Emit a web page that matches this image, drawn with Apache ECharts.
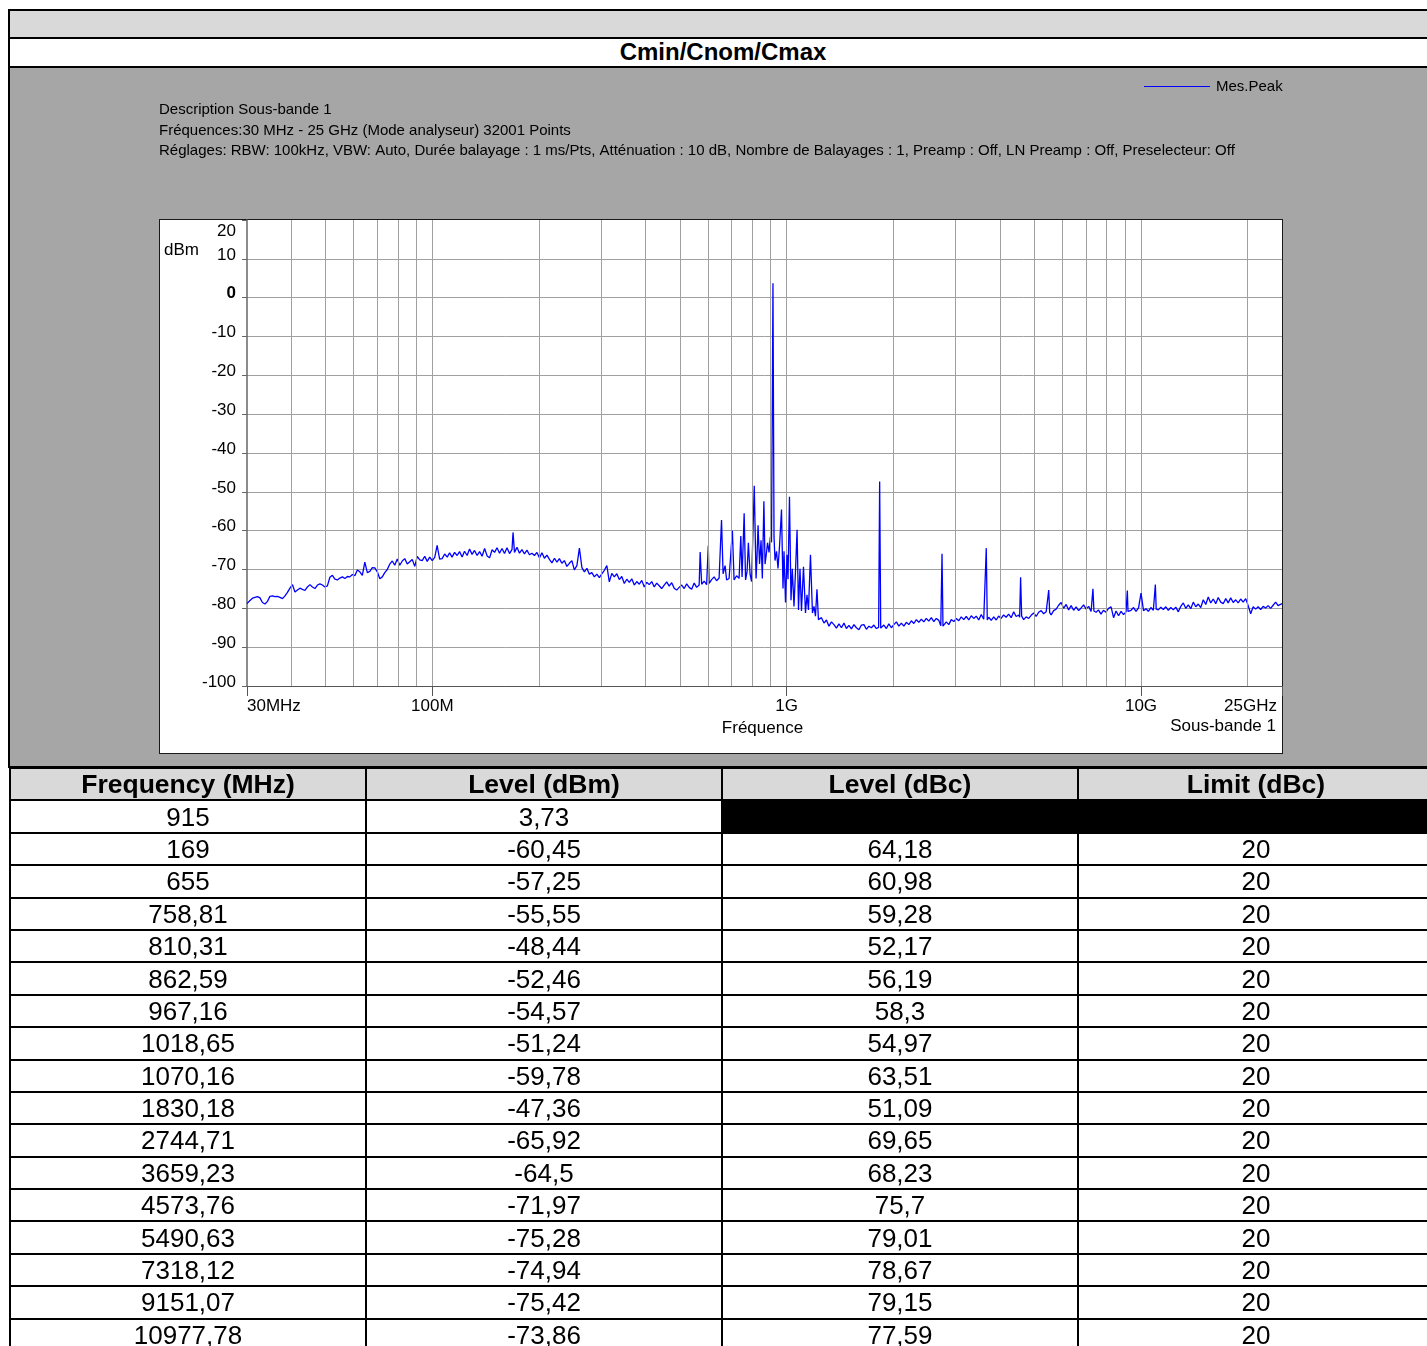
<!DOCTYPE html>
<html><head><meta charset="utf-8">
<script src="https://cdn.jsdelivr.net/npm/echarts@6/dist/echarts.min.js"></script>
<style>
html,body{margin:0;padding:0;width:1427px;height:1346px;overflow:hidden;background:#fff;font-family:"Liberation Sans",Arial,sans-serif;}
.abs{position:absolute;}
#frame{left:8px;top:9px;width:1440px;height:759px;background:#000;}
#band{left:10px;top:11px;width:1440px;height:26px;background:#d9d9d9;}
#titleRow{left:10px;top:39px;width:1426px;height:27px;background:#fff;font-weight:bold;font-size:24px;line-height:26px;text-align:center;color:#000;}
#grayArea{left:10px;top:68px;width:1440px;height:698px;background:#a6a6a6;}
#panel{left:159px;top:219px;width:1122px;height:533px;background:#fff;border:1px solid #1a1a1a;}
#chart{left:0;top:0;width:1427px;height:768px;}
#tbl{left:9px;top:767px;border-collapse:collapse;table-layout:fixed;width:1426px;}
#tbl td,#tbl th{border:2px solid #000;padding:0;text-align:center;font-size:26px;color:#000;line-height:28px;}
#tbl th{background:#d9d9d9;font-weight:bold;font-size:26.5px;}
#tbl tr{height:32.4px;}
#tbl td.blk{background:#000;}
</style>
</head>
<body>
<div id="frame" class="abs"></div>
<div id="band" class="abs"></div>
<div id="titleRow" class="abs">Cmin/Cnom/Cmax</div>
<div id="grayArea" class="abs"></div>
<div id="panel" class="abs"></div>
<div id="chart" class="abs"></div>
<table id="tbl" class="abs">
<colgroup><col style="width:356px"><col style="width:356px"><col style="width:356px"><col style="width:356px"></colgroup>
<thead><tr id="hdr"></tr></thead>
<tbody id="body"></tbody>
</table>
<script>
// ---- sweep trace (frequency MHz, level dBm) ----
const segA = [
[30.0,-78.8],[30.59,-78.0],[31.09,-77.4],[31.60,-77.2],[32.12,-77.0],[32.64,-77.3],[33.17,-78.5],[33.72,-78.9],[34.27,-78.2],[34.83,-76.9],
[35.40,-76.8],[35.98,-77.0],[36.57,-76.9],[37.17,-77.2],[37.78,-77.5],[38.40,-76.8],[39.02,-75.9],[39.66,-74.8],[40.31,-73.9],[40.97,-75.8],
[41.64,-75.3],[42.32,-74.8],[43.01,-75.1],[43.72,-75.4],[44.43,-74.5],[45.16,-73.9],[45.90,-74.5],[46.65,-74.9],[47.41,-74.0],[48.18,-73.7],
[48.97,-74.0],[49.77,-74.5],[50.58,-74.2],[51.41,-72.0],[52.25,-71.5],[53.11,-72.5],[53.97,-72.7],[54.86,-72.2],[55.76,-71.9],[56.67,-72.3],
[57.60,-71.8],[58.53,-71.9],[59.49,-71.3],[60.46,-71.6],[61.45,-70.1],[62.45,-70.6],[63.47,-71.5],[64.51,-68.1],[65.56,-70.8],[66.64,-70.5],
[67.73,-69.5],[68.84,-69.6],[69.96,-70.6],[71.10,-72.4],[72.26,-71.9],[73.44,-70.8],[74.65,-70.0],[75.87,-68.6],[77.11,-67.8],[78.37,-68.9],
[79.65,-67.3]
];
const segB = [
[80.95,-68.9],[82.27,-67.8],[83.62,-67.2],[84.99,-68.6],[86.38,-68.0],[87.79,-67.4],[89.23,-69.2],[90.69,-66.6],[92.17,-67.5],[93.68,-67.7],
[95.21,-66.6],[96.76,-67.9],[98.34,-66.8],[99.95,-67.7],[101.6,-66.9],[103.2,-63.8],[104.9,-67.3],[106.6,-67.2],[108.4,-66.0],[110.2,-66.8],
[111.9,-65.7],[113.7,-66.8],[115.6,-65.6],[117.5,-66.4],[119.4,-65.4],[121.4,-66.8],[123.3,-65.3],[125.4,-66.4],[127.4,-64.7],[129.5,-66.1],
[131.6,-65.1],[133.8,-66.4],[136.0,-65.4],[138.2,-66.6],[140.5,-64.6],[142.8,-66.5],[145.1,-67.0],[147.5,-64.9],[149.9,-65.6],[152.3,-64.4],
[154.8,-65.8],[157.3,-64.6],[159.9,-65.9],[162.5,-64.4],[165.2,-65.9],[167.9,-64.8],[170.6,-65.6],[173.4,-64.3],[176.2,-65.8],[179.1,-64.9],
[182.0,-66.0],[185.0,-65.0],[188.0,-66.2],[191.1,-65.8],[194.2,-66.4],[197.4,-65.6],[200.6,-67.0],[203.9,-65.7],[207.2,-67.1],[210.6,-66.3],
[214.1,-67.4],[217.6,-68.3],[221.2,-67.1],[224.8,-68.1],[228.4,-67.2],[232.1,-68.4],[235.9,-67.7],[239.8,-69.2],[243.7,-68.4],[247.7,-67.7],
[251.7,-70.1],[255.9,-69.0],[260.1,-64.5],[264.4,-69.5],[268.7,-70.6],[273.1,-69.7],[277.5,-71.2],[282.0,-70.8],[286.7,-71.9],[291.3,-71.2]
];
const segC = [
[296.1,-72.1],[300.9,-71.1],[305.9,-70.2],[310.9,-69.0],[315.9,-73.2],[321.1,-71.0],[326.3,-71.9],[331.7,-71.1],[337.1,-72.6],[342.6,-71.8],
[348.2,-73.6],[353.9,-72.5],[359.7,-73.3],[365.6,-72.4],[371.6,-74.0],[377.6,-73.1],[383.8,-73.8],[390.1,-72.8],[396.5,-74.5],[402.9,-73.3],
[409.5,-73.9],[416.2,-73.1],[423.0,-74.5],[429.9,-73.5],[436.9,-74.2],[444.0,-74.9],[451.3,-74.0],[458.7,-73.2],[466.2,-74.3],[473.8,-73.4],
[481.6,-74.8],[489.4,-75.3],[497.5,-74.6],[505.6,-74.0],[513.9,-74.9],[522.3,-73.7],[530.8,-74.6],[539.5,-75.1],[548.3,-73.5],[557.3,-74.6],
[566.4,-74.0],[570.1,-65.5],[575.7,-73.8],[585.1,-73.0],[594.6,-73.9],[601.0,-63.9],[604.3,-73.6],[614.2,-72.6],[624.2,-71.9],[634.4,-72.9],
[644.8,-72.2],[661.7,-71.1],[670.4,-69.0],[677.0,-72.7],[688.0,-72.3],[702.9,-60.0],[710.7,-72.7],[722.3,-71.6],[734.2,-72.3],[742.4,-61.4],
[748.6,-71.9],[765.8,-72.7],[773.3,-70.5],[779.9,-63.1],[788.5,-71.2],[796.2,-73.1],[819.8,-72.3],[825.1,-66.5],[830.5,-58.6],[838.6,-68.6],
[846.8,-62.5],[853.9,-72.3],[869.1,-68.6],[876.4,-66.0],[883.3,-63.1],[891.9,-65.6],[899.5,-61.6],[906.5,-63.0],[921.3,-61.6],[927.3,-67.7],
[936.4,-65.3],[945.5,-69.7],[954.8,-64.0],[976.7,-74.9],[983.1,-65.3],[992.7,-78.5],[1002.4,-66.2],[1008.9,-72.5],[1028.8,-77.9],[1037.4,-69.8],
[1049.0,-79.5],[1059.2,-70.5],[1080.1,-80.4],[1090.7,-69.8],[1101.3,-80.7],[1115.7,-69.3],[1130.3,-81.2],[1141.3,-76.5],[1152.5,-80.4],[1167.5,-66.2],
[1182.7,-81.2],[1194.3,-79.5],[1206.0,-82.0],[1217.8,-75.1],[1229.7,-82.9]
];
const segD = [
[1253.9,-82.4],[1274.4,-83.8],[1295.2,-83.0],[1316.4,-84.6],[1337.9,-83.5],[1359.8,-84.2],[1382.0,-85.1],[1404.7,-84.0],[1427.7,-85.0],[1451.0,-83.8],
[1474.7,-85.2],[1498.9,-84.4],[1523.4,-85.3],[1548.3,-84.2],[1573.6,-85.0],[1599.4,-85.5],[1625.6,-84.3],[1652.2,-84.2],[1679.1,-85.4],[1706.6,-84.6],
[1734.5,-85.0],[1762.9,-84.3],[1791.7,-85.2],[1818,-84.9],[1843,-85.1],[1881.1,-84.3],[1911.8,-85.2],[1943.1,-84.0],[1974.9,-85.0],[2007.2,-84.2],
[2040.0,-83.5],[2073.4,-84.6],[2107.3,-83.8],[2141.8,-84.6],[2176.8,-83.6],[2212.4,-84.2],[2248.6,-83.2],[2285.4,-83.9],[2322.7,-82.9],[2360.7,-83.6],
[2399.3,-82.8],[2438.6,-83.5],[2478.4,-82.6],[2519.0,-83.3],[2560.2,-82.4],[2602.1,-83.4],[2644.6,-82.6],[2687.9,-83.1],[2723.0,-84.5],[2762,-84.6],
[2821.9,-83.5],[2868.1,-84.2],[2915.0,-82.9],[2962.7,-83.4],[3011.1,-82.6],[3060.4,-83.2],[3110.4,-82.2],[3161.3,-82.9],[3213.0,-82.1],[3265.6,-83.0],
[3319.0,-81.9],[3373.3,-82.6],[3428.4,-82.0],[3484.5,-83.0],[3541.5,-81.6],[3599.4,-82.8],[3636,-82.5],[3683,-83.0],[3718.1,-82.3],[3778.9,-83.1],
[3840.7,-82.2],[3903.5,-83.0],[3965,-82.0],[4030,-82.6],[4096,-81.7],[4163,-82.3],[4233,-81.5],[4302,-82.4],[4373,-80.9],[4444,-82.1],
[4517,-81.7],[4545,-82.3],[4605,-82.0],[4666,-82.9],[4742,-82.2],[4820,-82.6],[4899,-81.8],[4979,-81.2],[5060,-82.1],[5143,-81.0],
[5227,-80.6],[5313,-81.4],[5400,-80.9],[5455,-81.3],[5525,-81.1],[5578,-81.7],[5669,-80.6],[5762,-80.2],[5856,-79.2],[5952,-78.5],
[6049,-80.0],[6148,-79.0],[6249,-80.4],[6351,-79.3],[6455,-80.5],[6560,-79.6],[6668,-80.6],[6777,-79.9],[6888,-79.1],[7000,-80.2],
[7115,-79.5],[7231,-80.8],[7275,-80.3],[7365,-80.7],[7470,-81.0],[7585,-80.4],[7709,-81.5],[7835,-80.5],[7963,-81.0],[8101,-80.0],
[8233,-79.6],[8368,-82.4],[8505,-80.7],[8644,-81.9],[8785,-80.8],[8929,-81.6],[9075,-80.9],[9110,-80.6],[9190,-80.8],[9374,-80.5],
[9527,-79.8],[9683,-80.8],[9842,-79.9],[10003,-76.1],[10166,-80.6],[10333,-80.1],[10490,-80.8],[10662,-79.8],[10836,-80.5],[10920,-80.0],
[11040,-80.2],[11193,-80.4],[11376,-79.7],[11562,-80.3],[11751,-79.6],[11944,-80.5],[12139,-79.8],[12338,-80.4],[12539,-79.7],[12744,-80.9],
[12952,-79.5],[13164,-78.6],[13379,-80.0],[13598,-79.1],[13820,-80.1],[14046,-78.4],[14276,-79.6],[14509,-78.9],[14746,-79.8],[14988,-77.8],
[15232,-79.0],[15482,-77.1],[15735,-78.6],[15993,-77.6],[16254,-78.8],[16519,-77.2],[16789,-78.4],[17064,-78.8],[17343,-77.5],[17626,-78.6],
[17914,-77.3],[18207,-78.5],[18505,-77.8],[18808,-78.6],[19116,-77.6],[19428,-78.4],[19746,-77.5],[20066,-79.3],[20394,-81.4],[20729,-79.6],
[21067,-80.2],[21412,-79.6],[21762,-80.3],[22118,-79.5],[22480,-79.9],[22846,-79.3],[23220,-80.0],[23599,-79.2],[23985,-78.4],[24377,-79.3],
[25000,-78.8]
];

// ---- peak table ----
const peakFreqMHz  = [915, 169, 655, 758.81, 810.31, 862.59, 967.16, 1018.65, 1070.16, 1830.18, 2744.71, 3659.23, 4573.76, 5490.63, 7318.12, 9151.07, 10977.78];
const peakLevelDbm = [3.73, -60.45, -57.25, -55.55, -48.44, -52.46, -54.57, -51.24, -59.78, -47.36, -65.92, -64.5, -71.97, -75.28, -74.94, -75.42, -73.86];
const peakLevelDbc = [null, 64.18, 60.98, 59.28, 52.17, 56.19, 58.3, 54.97, 63.51, 51.09, 69.65, 68.23, 75.7, 79.01, 78.67, 79.15, 77.59];
const peakLimitDbc = [null, 20, 20, 20, 20, 20, 20, 20, 20, 20, 20, 20, 20, 20, 20, 20, 20];
const tableHeaders = ['Frequency (MHz)', 'Level (dBm)', 'Level (dBc)', 'Limit (dBc)'];

// ---- axes ----
const gridFreqMHz = [40,50,60,70,80,90,200,300,400,500,600,700,800,900,2000,3000,4000,5000,6000,7000,8000,9000,20000];
const xTickValues = [30, 100, 1000, 10000, 25000];
const xTickLabels = ['30MHz', '100M', '1G', '10G', '25GHz'];
const yMin = -100, yMax = 20, yStep = 10;

const descLines = [
  'Description Sous-bande 1',
  'Fréquences:30 MHz - 25 GHz (Mode analyseur) 32001 Points',
  'Réglages: RBW: 100kHz, VBW: Auto, Durée balayage : 1 ms/Pts, Atténuation : 10 dB, Nombre de Balayages : 1, Preamp : Off, LN Preamp : Off, Preselecteur: Off'
];

const FONT = '"Liberation Sans", Arial, sans-serif';
const BLUE = '#0000ff';
const trace = segA.concat(segB, segC, segD, peakFreqMHz.map((f, i) => [f, peakLevelDbm[i]]))
  .sort((a, b) => a[0] - b[0]);

const chart = echarts.init(document.getElementById('chart'), null, {renderer: 'canvas'});
chart.setOption({
  animation: false,
  textStyle: {fontFamily: FONT},
  grid: {left: 247, top: 220, width: 1035, height: 466, show: false},
  legend: {
    data: [{name: 'Mes.Peak', itemStyle: {color: BLUE}}],
    left: 1144, top: 79, padding: 0, icon: 'rect', itemWidth: 66, itemHeight: 1.2,
    selectedMode: false,
    itemStyle: {color: BLUE},
    textStyle: {fontSize: 15, color: '#000', fontFamily: FONT, padding: [0, 0, 0, 1]}
  },
  xAxis: {
    type: 'log', logBase: 10, min: 30, max: 25000,
    name: 'Fréquence', nameLocation: 'middle', nameGap: 30,
    nameTextStyle: {fontSize: 17, color: '#000', fontFamily: FONT, padding: [0, 4, 0, 0]},
    axisLine: {show: true, onZero: false, lineStyle: {color: '#555', width: 1}},
    axisTick: {show: true, length: 10, lineStyle: {color: '#555'}},
    axisLabel: {
      fontSize: 17, color: '#000', margin: 12, fontFamily: FONT,
      showMinLabel: true, showMaxLabel: true, alignMinLabel: 'left', alignMaxLabel: 'right',
      formatter: function (v) {
        for (let i = 0; i < xTickValues.length; i++) {
          if (Math.abs(v / xTickValues[i] - 1) < 1e-3) {
            return i === xTickValues.length - 1 ? '{r|' + xTickLabels[i] + '}' : xTickLabels[i];
          }
        }
        return '';
      },
      rich: {r: {fontSize: 17, color: '#000', fontFamily: FONT, padding: [0, 5, 0, 0]}}
    },
    splitLine: {show: true, showMinLine: false, showMaxLine: false, lineStyle: {color: '#a0a0a0', width: 1}}
  },
  yAxis: {
    type: 'value', min: yMin, max: yMax, interval: yStep,
    axisLine: {show: true, onZero: false, lineStyle: {color: '#666', width: 1.5}},
    axisTick: {show: true, length: 5, lineStyle: {color: '#666'}},
    axisLabel: {
      color: '#000', margin: 11, fontFamily: FONT,
      formatter: function (v) {
        if (v === 20) return '{t|20}';
        if (v === 0) return '{b|0}';
        return '{n|' + v + '}';
      },
      rich: {
        n: {fontSize: 17, color: '#000', fontFamily: FONT, padding: [0, 0, 8, 0]},
        b: {fontSize: 17, color: '#000', fontFamily: FONT, fontWeight: 'bold', padding: [0, 0, 8, 0]},
        t: {fontSize: 17, color: '#000', fontFamily: FONT, padding: [22, 0, 0, 0]}
      }
    },
    splitLine: {show: true, showMaxLine: false, lineStyle: {color: '#a0a0a0', width: 1}}
  },
  graphic: [
    {type: 'text', style: {text: descLines[0], x: 159, y: 110, verticalAlign: 'middle', font: '15px ' + FONT, fill: '#000'}},
    {type: 'text', style: {text: descLines[1], x: 159, y: 131, verticalAlign: 'middle', font: '15px ' + FONT, fill: '#000'}},
    {type: 'text', style: {text: descLines[2], x: 159, y: 151, verticalAlign: 'middle', font: '15px ' + FONT, fill: '#000'}},
    {type: 'text', style: {text: 'dBm', x: 164, y: 250, verticalAlign: 'middle', font: '17px ' + FONT, fill: '#000'}},
    {type: 'text', style: {text: 'Sous-bande 1', x: 1276, y: 726, align: 'right', verticalAlign: 'middle', font: '17px ' + FONT, fill: '#000'}}
  ],
  series: [
    {
      name: 'gridlines', type: 'line', data: [], z: 1, silent: true,
      markLine: {
        silent: true, symbol: ['none', 'none'], animation: false,
        label: {show: false},
        lineStyle: {color: '#a0a0a0', type: 'solid', width: 1},
        emphasis: {disabled: true},
        data: gridFreqMHz.map(f => ({xAxis: f}))
      }
    },
    {
      name: 'Mes.Peak', type: 'line', data: trace, z: 3,
      symbol: 'none', showSymbol: false, color: BLUE,
      itemStyle: {color: BLUE},
      lineStyle: {color: BLUE, width: 1.3}
    }
  ]
});

// ---- table ----
const fmt = v => (v === null ? '' : String(v).replace('.', ','));
const hdr = document.getElementById('hdr');
tableHeaders.forEach(h => { const th = document.createElement('th'); th.textContent = h; hdr.appendChild(th); });
const body = document.getElementById('body');
peakFreqMHz.forEach((f, i) => {
  const tr = document.createElement('tr');
  [f, peakLevelDbm[i], peakLevelDbc[i], peakLimitDbc[i]].forEach(v => {
    const td = document.createElement('td');
    if (v === null) td.className = 'blk'; else td.textContent = fmt(v);
    tr.appendChild(td);
  });
  body.appendChild(tr);
});
</script>
</body></html>
